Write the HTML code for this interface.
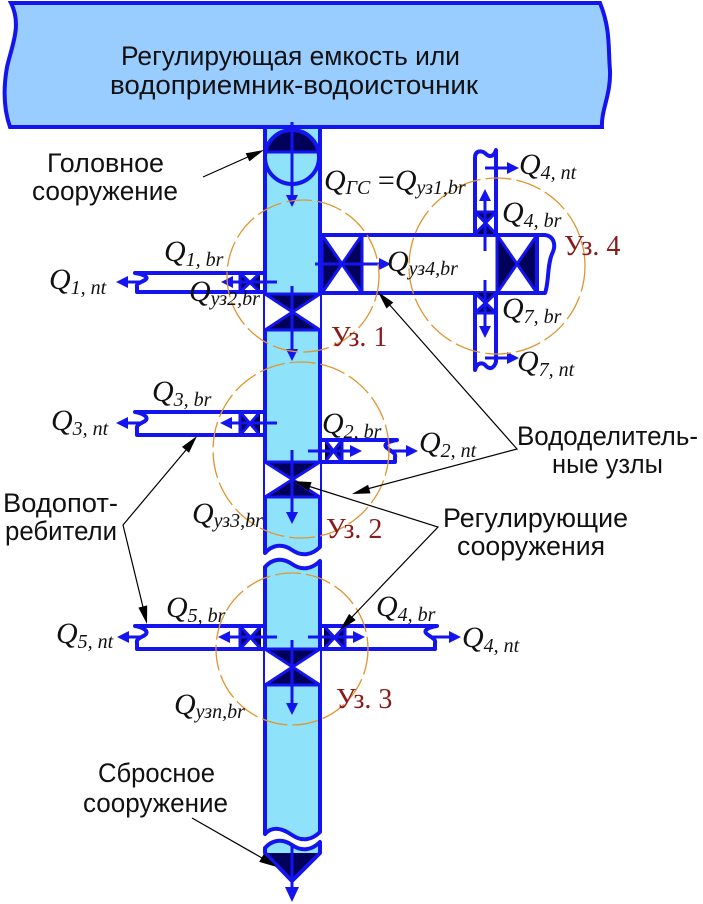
<!DOCTYPE html>
<html><head><meta charset="utf-8"><style>
html,body{margin:0;padding:0;background:#fff;}
svg{display:block}
.b{stroke:#1414ee;stroke-width:4;fill:none;stroke-linejoin:round}
.g{stroke:#1414ee;stroke-width:3;fill:none}
.d{fill:#00005a}
.a{stroke:#1414ee;stroke-width:3;fill:none}
.h{fill:#1414ee}
.o{fill:none;stroke:#e0952e;stroke-width:1.3;stroke-dasharray:26 5}
.l{stroke:#000;stroke-width:1.2;fill:none}
.k{fill:#000}
.t{font-family:"Liberation Sans",sans-serif;font-size:27px;fill:#111}
.q{font-family:"Liberation Serif",serif;font-style:italic;font-size:30px;fill:#111}
.s{font-size:20px}
.u{font-family:"Liberation Serif",serif;font-size:28px;fill:#8b1a1a}
</style></head><body>
<svg width="703" height="904" viewBox="0 0 703 904" xmlns="http://www.w3.org/2000/svg">
<!-- reservoir -->
<path d="M11,3 L600,3 C611,30 608,50 610,70 C611,95 601,110 602,127 L10,127 C4,110 3,90 7,67 C12,45 22,25 11,3 Z" fill="#99ccff" stroke="#1414ee" stroke-width="4"/>
<text class="t" x="121" y="65" textLength="339" lengthAdjust="spacingAndGlyphs">Регулирующая емкость или</text>
<text class="t" x="110" y="94" textLength="368" lengthAdjust="spacingAndGlyphs">водоприемник-водоисточник</text>

<!-- main pipe segment A -->
<path d="M265,129 L265,553 C272,545 282,543 292,550 C302,557 312,555 320,547 L320,129 Z" fill="#8ee3fa"/>
<path class="b" d="M265,127 L265,553 C272,545 282,543 292,550 C302,557 312,555 320,547 L320,127"/>
<!-- segment B -->
<path d="M265,567 C272,559 282,557 292,564 C302,571 312,569 320,561 L320,832 C312,840 302,842 292,835 C282,828 272,826 265,834 Z" fill="#8ee3fa" stroke="#1414ee" stroke-width="4" stroke-linejoin="round"/>
<!-- segment C -->
<path d="M265,848 C272,840 282,838 292,845 C302,852 312,850 320,842 L320,853 L265,853 Z" fill="#8ee3fa"/>
<path class="d" d="M265,853 L320,853 L292,881 Z"/>
<path class="b" d="M265,848 C272,840 282,838 292,845 C302,852 312,850 320,842 L320,853 L292,881 L265,853 Z"/>
<line class="a" x1="292" y1="845" x2="292" y2="890"/>
<polygon class="h" points="292,902 285,887 299,887"/>

<!-- head structure -->
<path class="d" d="M265.5,152 A27,27 0 0 1 318.5,152 Z"/>
<ellipse class="b" cx="292" cy="157" rx="27" ry="27"/>
<line class="g" x1="265" y1="152" x2="320" y2="152"/>
<line class="a" x1="292" y1="122" x2="292" y2="196"/>
<polygon class="h" points="292,207 286,195 298,195"/>

<!-- ===== Node 1 ===== -->
<path class="b" d="M265,273 L135,273 C142,274 150,277 145,280 C140,283 136,283 137,287 L137,292 L265,292"/>
<path class="d" d="M240,273 L240,292 L250,282.5 Z M260,273 L260,292 L250,282.5 Z"/>
<path class="g" d="M240,273 L240,292 M240,273 L260,292 M260,273 L240,292"/>
<line class="a" x1="277" y1="282" x2="232" y2="282"/>
<polygon class="h" points="221,282 233,276 233,288"/>
<line class="a" x1="140" y1="282" x2="126" y2="282"/>
<polygon class="h" points="116,282 128,276 128,288"/>
<rect x="265" y="294" width="55" height="36" fill="#fff"/>
<path class="d" d="M265,294 L320,294 L292.5,312 Z M265,330 L320,330 L292.5,312 Z"/>
<path class="g" d="M263,294 L322,294 M263,330 L322,330 M265,294 L320,330 M320,294 L265,330"/>
<line class="a" x1="292" y1="286" x2="292" y2="350"/>
<polygon class="h" points="292,361 286,349 298,349"/>

<!-- big pipe to node 4 -->
<path class="b" d="M320,235 L545,235 C553,236 557,244 552,254 C547,266 549,283 545,293 L320,293"/>
<rect x="322" y="237" width="40" height="54" fill="#fff"/>
<path class="d" d="M322,235 L322,293 L342,264 Z M362,235 L362,293 L342,264 Z"/>
<path class="g" d="M322,235 L362,293 M362,235 L322,293 M362,235 L362,293 M322,233 L322,295"/>
<line class="a" x1="315" y1="264" x2="380" y2="264"/>
<polygon class="h" points="391,264 379,258 379,270"/>
<path class="d" d="M497,235 L497,293 L517,264 Z M537,235 L537,293 L517,264 Z"/>
<path class="g" d="M497,235 L537,293 M537,235 L497,293 M497,235 L497,293"/>
<line x1="537" y1="235" x2="537" y2="293" stroke="#1414ee" stroke-width="4"/>
<path class="b" d="M475,235 L475,158 C475,150 482,150 486,154 C490,158 494,156 496,150 L496,235"/>
<path class="b" d="M475,293 L475,370 C477,362 483,362 486,366 C490,370 494,368 496,362 L496,293"/>
<path class="d" d="M475,212 L496,212 L485.5,223 Z M475,234 L496,234 L485.5,223 Z"/>
<path class="g" d="M475,212 L496,212 M475,212 L496,234 M496,212 L475,234"/>
<path class="d" d="M475,293 L496,293 L485.5,303 Z M475,313 L496,313 L485.5,303 Z"/>
<path class="g" d="M475,313 L496,313 M475,293 L496,313 M496,293 L475,313"/>
<line class="a" x1="485" y1="251" x2="485" y2="200"/>
<polygon class="h" points="485,189 479,201 491,201"/>
<line class="a" x1="485" y1="280" x2="485" y2="326"/>
<polygon class="h" points="485,338 479,326 491,326"/>
<line class="a" x1="485" y1="168" x2="507" y2="168"/>
<polygon class="h" points="519,168 507,162 507,174"/>
<line class="a" x1="485" y1="358" x2="507" y2="358"/>
<polygon class="h" points="519,358 507,352 507,364"/>

<!-- ===== Node 2 ===== -->
<path class="b" d="M265,412 L135,412 C142,413 150,417 145,421 C140,424 136,425 137,429 L137,435 L265,435"/>
<path class="d" d="M240,412 L240,435 L250,423.5 Z M260,412 L260,435 L250,423.5 Z"/>
<path class="g" d="M240,412 L240,435 M240,412 L260,435 M260,412 L240,435"/>
<line class="a" x1="277" y1="423" x2="231" y2="423"/>
<polygon class="h" points="220,423 232,417 232,429"/>
<line class="a" x1="140" y1="423" x2="126" y2="423"/>
<polygon class="h" points="116,423 128,417 128,429"/>
<path class="b" d="M320,440 L397,440 C390,441 382,444 387,448 C392,452 396,453 395,457 L395,462 L320,462"/>
<path class="d" d="M325,440 L325,462 L333.5,451 Z M342,440 L342,462 L333.5,451 Z"/>
<path class="g" d="M342,440 L342,462 M325,440 L342,462 M342,440 L325,462"/>
<line class="a" x1="308" y1="451" x2="351" y2="451"/>
<polygon class="h" points="362,451 350,445 350,457"/>
<line class="a" x1="390" y1="451" x2="406" y2="451"/>
<polygon class="h" points="418,451 406,445 406,457"/>
<rect x="265" y="462" width="55" height="35" fill="#fff"/>
<path class="d" d="M265,462 L320,462 L292.5,479.5 Z M265,497 L320,497 L292.5,479.5 Z"/>
<path class="g" d="M263,462 L322,462 M263,497 L322,497 M265,462 L320,497 M320,462 L265,497"/>
<line class="a" x1="292" y1="450" x2="292" y2="512"/>
<polygon class="h" points="292,524 286,512 298,512"/>

<!-- ===== Node 3 ===== -->
<path class="b" d="M265,626 L135,626 C142,627 150,631 145,635 C140,638 136,639 137,643 L137,649 L265,649"/>
<path class="d" d="M240,626 L240,649 L250.5,637.5 Z M261,626 L261,649 L250.5,637.5 Z"/>
<path class="g" d="M240,626 L240,649 M240,626 L261,649 M261,626 L240,649"/>
<line class="a" x1="277" y1="637" x2="229" y2="637"/>
<polygon class="h" points="218,637 230,631 230,643"/>
<line class="a" x1="140" y1="637" x2="127" y2="637"/>
<polygon class="h" points="117,637 129,631 129,643"/>
<path class="b" d="M320,626 L437,626 C430,627 422,630 427,634 C432,638 436,639 435,643 L435,649 L320,649"/>
<path class="d" d="M324,626 L324,649 L334.5,637.5 Z M345,626 L345,649 L334.5,637.5 Z"/>
<path class="g" d="M345,626 L345,649 M324,626 L345,649 M345,626 L324,649"/>
<line class="a" x1="308" y1="637" x2="354" y2="637"/>
<polygon class="h" points="365,637 353,631 353,643"/>
<line class="a" x1="433" y1="637" x2="449" y2="637"/>
<polygon class="h" points="461,637 449,631 449,643"/>
<rect x="265" y="649" width="55" height="36" fill="#fff"/>
<path class="d" d="M265,649 L320,649 L292.5,667 Z M265,685 L320,685 L292.5,667 Z"/>
<path class="g" d="M263,649 L322,649 M263,685 L322,685 M265,649 L320,685 M320,649 L265,685"/>
<line class="a" x1="292" y1="640" x2="292" y2="703"/>
<polygon class="h" points="292,715 286,703 298,703"/>

<!-- circles -->
<circle class="o" cx="303" cy="276" r="76"/>
<circle class="o" cx="497" cy="266" r="88"/>
<circle class="o" cx="301" cy="450" r="88"/>
<circle class="o" cx="292" cy="649" r="76"/>

<!-- leader lines -->
<line class="l" x1="203" y1="177" x2="250" y2="156"/>
<polygon class="k" points="264,150 249.4,161.4 245.7,153.2"/>
<polyline class="l" points="388,303 517,449 367,489"/>
<polygon class="k" points="378,292 393.3,302.5 386.5,308.5"/>
<polygon class="k" points="352,494 368.1,484.8 370.5,493.4"/>
<polyline class="l" points="308,486 438,527 352,617"/>
<polygon class="k" points="293,481 311.6,482.1 308.8,490.7"/>
<polygon class="k" points="340,630 349.1,613.9 355.7,620.1"/>
<polyline class="l" points="186,450 123,525 143,607"/>
<polygon class="k" points="197,436 189.0,452.7 182.0,446.9"/>
<polygon class="k" points="147,624 138.4,607.6 147.2,605.4"/>
<line class="l" x1="192" y1="818" x2="262" y2="858"/>
<polygon class="k" points="277,867 259.2,861.9 263.7,854.1"/>

<!-- sans labels -->
<text class="t" x="47" y="172" textLength="117" lengthAdjust="spacingAndGlyphs">Головное</text>
<text class="t" x="32" y="200" textLength="146" lengthAdjust="spacingAndGlyphs">сооружение</text>
<text class="t" x="517" y="445" textLength="181" lengthAdjust="spacingAndGlyphs">Вододелитель-</text>
<text class="t" x="552" y="473" textLength="111" lengthAdjust="spacingAndGlyphs">ные узлы</text>
<text class="t" x="443" y="527" textLength="185" lengthAdjust="spacingAndGlyphs">Регулирующие</text>
<text class="t" x="457" y="555" textLength="148" lengthAdjust="spacingAndGlyphs">сооружения</text>
<text class="t" x="3" y="512" textLength="115" lengthAdjust="spacingAndGlyphs">Водопот-</text>
<text class="t" x="5" y="540" textLength="112" lengthAdjust="spacingAndGlyphs">ребители</text>
<text class="t" x="98" y="782" textLength="117" lengthAdjust="spacingAndGlyphs">Сбросное</text>
<text class="t" x="83" y="812" textLength="145" lengthAdjust="spacingAndGlyphs">сооружение</text>

<!-- node labels -->
<text class="u" x="331" y="346">Уз. 1</text>
<text class="u" x="564" y="255">Уз. 4</text>
<text class="u" x="326" y="538">Уз. 2</text>
<text class="u" x="336" y="708">Уз. 3</text>

<!-- Q labels -->
<text class="q" x="49" y="289">Q<tspan class="s" dy="5">1, nt</tspan></text>
<text class="q" x="164" y="261">Q<tspan class="s" dy="5">1, br</tspan></text>
<text class="q" x="189" y="301">Q<tspan class="s" dy="4">уз2,br</tspan></text>
<text class="q" x="387" y="271">Q<tspan class="s" dy="4">уз4,br</tspan></text>
<text class="q" x="324" y="190">Q<tspan class="s" dy="4">ГС</tspan><tspan dy="-4" font-style="normal"> =</tspan>Q<tspan class="s" dy="4">уз1,br</tspan></text>
<text class="q" x="519" y="174">Q<tspan class="s" dy="5">4, nt</tspan></text>
<text class="q" x="502" y="222">Q<tspan class="s" dy="5">4, br</tspan></text>
<text class="q" x="502" y="318">Q<tspan class="s" dy="5">7, br</tspan></text>
<text class="q" x="517" y="371">Q<tspan class="s" dy="5">7, nt</tspan></text>
<text class="q" x="152" y="401">Q<tspan class="s" dy="5">3, br</tspan></text>
<text class="q" x="51" y="430">Q<tspan class="s" dy="5">3, nt</tspan></text>
<text class="q" x="322" y="433">Q<tspan class="s" dy="5">2, br</tspan></text>
<text class="q" x="419" y="452">Q<tspan class="s" dy="5">2, nt</tspan></text>
<text class="q" x="192" y="523">Q<tspan class="s" dy="4">уз3,br</tspan></text>
<text class="q" x="166" y="617">Q<tspan class="s" dy="5">5, br</tspan></text>
<text class="q" x="56" y="643">Q<tspan class="s" dy="5">5, nt</tspan></text>
<text class="q" x="376" y="616">Q<tspan class="s" dy="5">4, br</tspan></text>
<text class="q" x="462" y="647">Q<tspan class="s" dy="5">4, nt</tspan></text>
<text class="q" x="174" y="714">Q<tspan class="s" dy="4">узn,br</tspan></text>
</svg>
</body></html>
